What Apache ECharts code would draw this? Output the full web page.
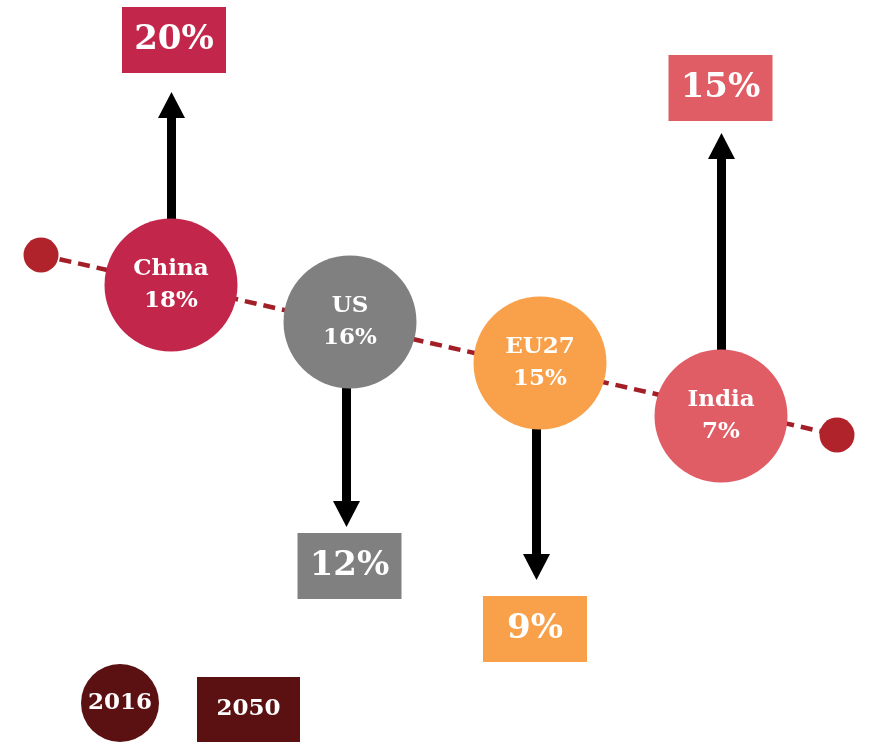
<!DOCTYPE html>
<html>
<head>
<meta charset="utf-8">
<script src="https://cdn.jsdelivr.net/npm/echarts@6/dist/echarts.min.js"></script>
<style>
html,body{margin:0;padding:0;background:#fff;}
#chart{width:869px;height:744px;}
</style>
</head>
<body>
<div id="chart"></div>
<script>
// ---- data ----
const regions = ['China', 'US', 'EU27', 'India'];
const share2016 = [18, 16, 15, 7];
const share2050 = [20, 12, 9, 15];
const legendLabels = ['2016', '2050'];

// ---- layout (pixel space mapped 1:1 by hidden value axes) ----
const circleX = [171, 350, 540, 721];
const circleY = [285, 322, 363, 416];
const arrowX = [171.5, 346.5, 536.5, 721.5];
const arrowTipY = [92, 527, 580, 133];
const boxX = [174, 349.5, 535, 720.5];
const boxY = [40, 566, 629, 88];
const lineEnds = [[41, 255], [837, 435]];
const legendPos = [[120, 703], [248.5, 709.5]];

// ---- styles ----
const colors = ['#c3264b', '#808080', '#f9a04a', '#e05d66'];
const legendColor = '#5b1112';
const dotColor = '#b1232b';
const font = 'DejaVu Serif';

const circleData = regions.map((r, i) => ({
  name: r, value: [circleX[i], circleY[i], share2016[i]],
  itemStyle: { color: colors[i], opacity: 1 }
}));
const boxData = regions.map((r, i) => ({
  name: r, value: [boxX[i], boxY[i], share2050[i]],
  itemStyle: { color: colors[i], opacity: 1 }
}));
const arrowData = regions.map((r, i) => [arrowX[i], circleY[i], arrowTipY[i], share2050[i] - share2016[i]]);

const chart = echarts.init(document.getElementById('chart'), null, { renderer: 'canvas' });
chart.setOption({
  animation: false,
  backgroundColor: '#ffffff',
  grid: { left: 0, right: 0, top: 0, bottom: 0 },
  xAxis: { type: 'value', min: 0, max: 869, show: false },
  yAxis: { type: 'value', min: 0, max: 744, inverse: true, show: false },
  series: [
    {
      type: 'line', data: lineEnds, symbol: 'none', z: 1,
      lineStyle: { color: '#a31f27', width: 4.5, type: [12, 7] }
    },
    {
      type: 'scatter', data: lineEnds, symbol: 'circle', symbolSize: 35, z: 2,
      itemStyle: { color: dotColor, opacity: 1 }
    },
    {
      type: 'custom', z: 3,
      data: arrowData,
      renderItem: function (params, api) {
        const start = api.coord([api.value(0), api.value(1)]);
        const tip = api.coord([api.value(0), api.value(2)]);
        const dir = tip[1] < start[1] ? -1 : 1;
        const headH = 26, headW = 27, shaftW = 9;
        const baseY = tip[1] - dir * headH;
        return {
          type: 'group',
          children: [
            {
              type: 'rect',
              shape: { x: start[0] - shaftW / 2, y: Math.min(start[1], baseY), width: shaftW, height: Math.abs(baseY - start[1]) + 1 },
              style: { fill: '#000' }
            },
            {
              type: 'polygon',
              shape: { points: [[tip[0], tip[1]], [tip[0] - headW / 2, baseY], [tip[0] + headW / 2, baseY]] },
              style: { fill: '#000' }
            }
          ]
        };
      }
    },
    {
      type: 'scatter', z: 4, data: circleData, symbol: 'circle', symbolSize: 133,
      label: {
        show: true, position: 'inside', color: '#fff',
        fontFamily: font, fontWeight: 'bold', fontSize: 23, lineHeight: 32,
        formatter: p => p.name + '\n' + p.value[2] + '%'
      }
    },
    {
      type: 'scatter', z: 4, data: boxData, symbol: 'rect', symbolSize: [104, 66],
      label: {
        show: true, position: 'inside', color: '#fff',
        fontFamily: font, fontWeight: 'bold', fontSize: 34,
        formatter: p => p.value[2] + '%'
      }
    },
    {
      type: 'scatter', z: 4,
      data: [
        { name: legendLabels[0], value: legendPos[0], symbol: 'circle', symbolSize: 78 },
        { name: legendLabels[1], value: legendPos[1], symbol: 'rect', symbolSize: [103, 65] }
      ],
      itemStyle: { color: legendColor, opacity: 1 },
      label: {
        show: true, position: 'inside', color: '#fff',
        fontFamily: font, fontWeight: 'bold', fontSize: 23,
        formatter: p => p.name
      }
    }
  ]
});
</script>
</body>
</html>
